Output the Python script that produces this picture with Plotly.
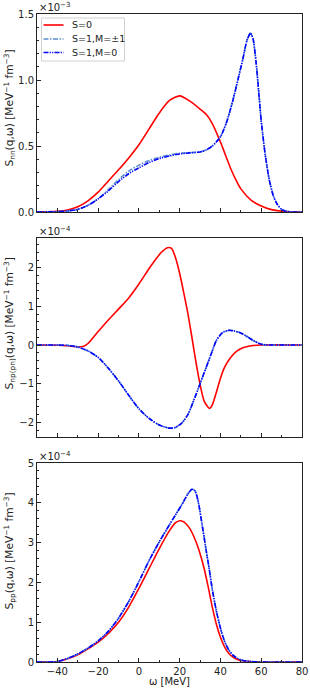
import plotly.graph_objects as go
from plotly.subplots import make_subplots

# ---- data (values scaled by the multiplier shown above each panel) ----
w_nn_s0 = [-50, -40, -35, -30, -25, -20, -15, -10, -5, 0, 5, 10, 15, 20, 25, 30, 33, 36, 40, 42, 45, 48, 50, 55, 60, 65, 70, 75, 80]
snn_s0 = [0, 0.005, 0.015, 0.04, 0.085, 0.15, 0.235, 0.32, 0.41, 0.51, 0.63, 0.75, 0.845, 0.88, 0.84, 0.78, 0.74, 0.67, 0.53, 0.45, 0.33, 0.23, 0.175, 0.09, 0.045, 0.018, 0.006, 0.001, 0]

w_nn_s1 = [-50, -40, -35, -30, -25, -20, -15, -10, -5, 0, 5, 10, 15, 20, 25, 30, 33, 36, 40, 43, 46, 49, 51, 53, 54.7, 56, 57.5, 59, 60, 62, 64, 66, 68, 70, 72, 75, 80]
snn_s1_m0 = [0, 0.003, 0.008, 0.02, 0.05, 0.10, 0.16, 0.23, 0.29, 0.335, 0.375, 0.405, 0.425, 0.44, 0.448, 0.455, 0.47, 0.50, 0.57, 0.68, 0.84, 1.03, 1.16, 1.30, 1.355, 1.31, 1.13, 0.87, 0.69, 0.43, 0.24, 0.12, 0.055, 0.02, 0.006, 0, 0]
snn_s1_pm1 = [0, 0.003, 0.008, 0.02, 0.05, 0.10, 0.17, 0.245, 0.31, 0.355, 0.39, 0.415, 0.432, 0.445, 0.45, 0.455, 0.47, 0.50, 0.57, 0.68, 0.84, 1.03, 1.16, 1.30, 1.355, 1.31, 1.13, 0.87, 0.69, 0.43, 0.24, 0.12, 0.055, 0.02, 0.006, 0, 0]

w_np_s0 = [-50, -40, -35, -30, -27, -25, -20, -15, -10, -5, 0, 5, 8, 11, 14, 16, 18, 20, 22, 24, 26, 28, 30, 32, 34.6, 36, 38, 40, 42, 45, 48, 51, 55, 60, 80]
snp_s0 = [0, -0.005, -0.02, -0.05, -0.03, 0.04, 0.35, 0.65, 0.93, 1.22, 1.58, 1.98, 2.2, 2.4, 2.52, 2.5, 2.25, 1.85, 1.35, 0.82, 0.2, -0.45, -1.02, -1.45, -1.64, -1.55, -1.22, -0.86, -0.58, -0.32, -0.16, -0.07, -0.02, 0, 0]

w_np_s1 = [-50, -40, -35, -30, -25, -20, -15, -10, -5, 0, 5, 10, 15, 18, 21, 24, 27, 30, 33, 36, 38, 41, 44, 47, 50, 53, 56, 59, 62, 65, 80]
snp_s1 = [0, 0, -0.01, -0.05, -0.15, -0.32, -0.6, -0.93, -1.3, -1.65, -1.9, -2.07, -2.15, -2.13, -2.02, -1.8, -1.42, -1.0, -0.58, -0.15, 0.12, 0.32, 0.38, 0.36, 0.31, 0.22, 0.12, 0.04, 0.005, 0, 0]

w_pp_s0 = [-50, -45, -40, -35, -30, -25, -20, -15, -10, -5, 0, 5, 10, 15, 18, 20, 22, 25, 28, 30, 32, 34, 36, 38, 40, 42, 44, 46, 48, 51, 55, 60, 80]
spp_s0 = [0, 0, 0.01, 0.08, 0.18, 0.33, 0.50, 0.72, 1.00, 1.38, 1.85, 2.35, 2.85, 3.3, 3.5, 3.55, 3.52, 3.35, 3.02, 2.72, 2.35, 1.88, 1.38, 0.95, 0.62, 0.38, 0.22, 0.13, 0.07, 0.03, 0.01, 0, 0]

w_pp_s1 = [-50, -45, -40, -35, -30, -25, -20, -15, -10, -5, 0, 5, 10, 15, 18, 21, 24, 26, 27.5, 29, 31, 33, 34.5, 36, 38, 40, 42, 44, 46, 48, 51, 55, 60, 80]
spp_s1 = [0, 0, 0.01, 0.09, 0.2, 0.35, 0.53, 0.77, 1.1, 1.52, 2.02, 2.55, 3.02, 3.45, 3.7, 3.95, 4.22, 4.34, 4.3, 4.05, 3.45, 2.8, 2.33, 1.82, 1.28, 0.85, 0.52, 0.31, 0.18, 0.1, 0.04, 0.01, 0, 0]

labels = ["S=0", "S=1,M=±1", "S=1,M=0"]
ytitles = [
    "S<sub>nn</sub>(q,ω) [MeV<sup>−1</sup> fm<sup>−3</sup>]",
    "S<sub>np(pn)</sub>(q,ω) [MeV<sup>−1</sup> fm<sup>−3</sup>]",
    "S<sub>pp</sub>(q,ω) [MeV<sup>−1</sup> fm<sup>−3</sup>]",
]
multipliers = ["×10<sup>−3</sup>", "×10<sup>−4</sup>", "×10<sup>−4</sup>"]
xtick_vals = [-40, -20, 0, 20, 40, 60, 80]
xtick_text = ["−40", "−20", "0", "20", "40", "60", "80"]
ytick_vals = [[0, 0.5, 1.0, 1.5], [-2, -1, 0, 1, 2], [0, 1, 2, 3, 4, 5]]
ytick_text = [["0.0", "0.5", "1.0", "1.5"], ["−2", "−1", "0", "1", "2"], ["0", "1", "2", "3", "4", "5"]]

RED = "#ff0000"
LBLUE = "#5b8fd0"
DBLUE = "#0000ff"
colors = [RED, LBLUE, DBLUE]
dash_pm1 = "5px,1.5px,1.5px,1.5px"
dash_m0 = "5px,1.2px,1.2px,1.2px,1.2px,1.2px"
dashes = ["solid", dash_pm1, dash_m0]
TXT = "#222222"

fig = make_subplots(rows=3, cols=1, shared_xaxes=True)

panels = [
    (w_nn_s0, snn_s0, w_nn_s1, snn_s1_pm1, w_nn_s1, snn_s1_m0),
    (w_np_s0, snp_s0, w_np_s1, snp_s1, w_np_s1, snp_s1),
    (w_pp_s0, spp_s0, w_pp_s1, spp_s1, w_pp_s1, spp_s1),
]

for i, (x0, y0, x1, y1, x2, y2) in enumerate(panels):
    r = i + 1
    for k, (xx, yy) in enumerate([(x0, y0), (x1, y1), (x2, y2)]):
        fig.add_trace(go.Scatter(x=xx, y=yy, mode="lines", name=labels[k],
                                 line=dict(color=colors[k], width=1.6, dash=dashes[k],
                                           shape="spline", smoothing=0.7),
                                 showlegend=False), row=r, col=1)

L, R, T, B = 37, 8, 14, 27
W, Ht = 310, 689
H = float(Ht - T - B)
PW = float(W - L - R)
def px2x(px):
    return (px - L) / PW
def py2y(py):
    return (Ht - B - py) / H

domains = [
    [py2y(212), 1.0],
    [py2y(437), py2y(238)],
    [0.0, py2y(463)],
]
title_centers = [108, 324, 551]
yranges = [[0, 1.5], [-2.38, 2.77], [0, 5]]
yminor = [0.1, 0.2, 0.2]

axis_common = dict(showline=True, linecolor=TXT, linewidth=1, mirror=True,
                   ticks="inside", ticklen=4, tickwidth=1, tickcolor=TXT,
                   showgrid=False, zeroline=False, automargin=False,
                   tickfont=dict(family="DejaVu Sans", size=10, color=TXT))

for i in range(3):
    yname = "yaxis" if i == 0 else f"yaxis{i+1}"
    xname = "xaxis" if i == 0 else f"xaxis{i+1}"
    fig.layout[yname].update(domain=domains[i], range=yranges[i],
                             tickvals=ytick_vals[i], ticktext=ytick_text[i],
                             minor=dict(ticks="inside", ticklen=2, dtick=yminor[i], tickcolor=TXT),
                             **axis_common)
    fig.layout[xname].update(range=[-50, 80], tickvals=xtick_vals, ticktext=xtick_text,
                             minor=dict(ticks="inside", ticklen=2, tick0=-50, dtick=10, tickcolor=TXT),
                             **axis_common)
    fig.add_annotation(text=multipliers[i], xref="paper", yref="paper",
                       x=0.0, y=domains[i][1], xanchor="left", yanchor="bottom",
                       showarrow=False, yshift=-1,
                       font=dict(family="DejaVu Sans", size=10, color=TXT))
    fig.add_annotation(text=ytitles[i], xref="paper", yref="paper",
                       x=px2x(9.5), y=py2y(title_centers[i]),
                       xanchor="center", yanchor="middle", textangle=-90,
                       showarrow=False,
                       font=dict(family="DejaVu Sans", size=10.6, color=TXT))

fig.add_annotation(text="ω [MeV]", xref="paper", yref="paper",
                   x=0.5, y=py2y(681), xanchor="center", yanchor="middle",
                   showarrow=False, font=dict(family="DejaVu Sans", size=10, color=TXT))

# ---- legend box (matplotlib-style) ----
fig.add_shape(type="rect", xref="paper", yref="paper",
              x0=px2x(41.5), x1=px2x(124.5), y0=py2y(61), y1=py2y(18),
              line=dict(color="#d0d0d0", width=1), fillcolor="rgba(255,255,255,0.85)", layer="above")
legend_rows = [25, 39, 52.5]
for k in range(3):
    fig.add_shape(type="line", xref="paper", yref="paper",
                  x0=px2x(43.5), x1=px2x(63.5), y0=py2y(legend_rows[k]), y1=py2y(legend_rows[k]),
                  line=dict(color=colors[k], width=1.6, dash=dashes[k]), layer="above")
    fig.add_annotation(text=labels[k], xref="paper", yref="paper",
                       x=px2x(69.5), y=py2y(legend_rows[k]), xanchor="left", yanchor="middle",
                       showarrow=False, font=dict(family="DejaVu Sans", size=9.5, color=TXT))

fig.update_layout(
    width=W, height=Ht,
    margin=dict(l=L, r=R, t=T, b=B, autoexpand=False),
    paper_bgcolor="white", plot_bgcolor="white",
    font=dict(family="DejaVu Sans", size=10, color=TXT),
    showlegend=False,
)

fig.write_html("out.html", config={"displayModeBar": False},
               post_script="document.body.style.margin='0';document.body.style.overflow='hidden';")
